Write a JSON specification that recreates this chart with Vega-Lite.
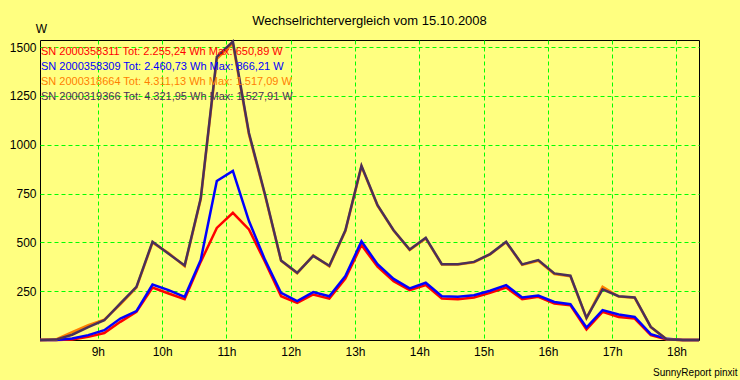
{
  "$schema": "https://vega.github.io/schema/vega-lite/v6.json",
  "width": 659,
  "height": 300,
  "autosize": "none",
  "padding": {"left": 40, "top": 40, "right": 41, "bottom": 40},
  "background": "#FFFF80",
  "config": {"font": "Liberation Sans", "view": {"stroke": "#000000", "strokeWidth": 1}},
  "title": {"text": "Wechselrichtervergleich vom 15.10.2008", "fontSize": 13, "fontWeight": "normal", "color": "#000000", "anchor": "middle", "baseline": "alphabetic", "offset": -16},
  "data": {"values": [
    {"t": "2008-10-15T08:06", "SN 2000358311": 0, "SN 2000358309": 0, "SN 2000318664": 0, "SN 2000319366": 0},
    {"t": "2008-10-15T08:21", "SN 2000358311": 0, "SN 2000358309": 0, "SN 2000318664": 3, "SN 2000319366": 2},
    {"t": "2008-10-15T08:36", "SN 2000358311": 3, "SN 2000358309": 8, "SN 2000318664": 40, "SN 2000319366": 27},
    {"t": "2008-10-15T08:51", "SN 2000358311": 16, "SN 2000358309": 25, "SN 2000318664": 76, "SN 2000319366": 66},
    {"t": "2008-10-15T09:06", "SN 2000358311": 36, "SN 2000358309": 50, "SN 2000318664": 104, "SN 2000319366": 101},
    {"t": "2008-10-15T09:21", "SN 2000358311": 93, "SN 2000358309": 110, "SN 2000318664": 182, "SN 2000319366": 188},
    {"t": "2008-10-15T09:36", "SN 2000358311": 144, "SN 2000358309": 148, "SN 2000318664": 268, "SN 2000319366": 272},
    {"t": "2008-10-15T09:51", "SN 2000358311": 269, "SN 2000358309": 284, "SN 2000318664": 498, "SN 2000319366": 503},
    {"t": "2008-10-15T10:06", "SN 2000358311": 238, "SN 2000358309": 255, "SN 2000318664": 445, "SN 2000319366": 441},
    {"t": "2008-10-15T10:21", "SN 2000358311": 209, "SN 2000358309": 221, "SN 2000318664": 378, "SN 2000319366": 382},
    {"t": "2008-10-15T10:36", "SN 2000358311": 400, "SN 2000358309": 410, "SN 2000318664": 720, "SN 2000319366": 725},
    {"t": "2008-10-15T10:51", "SN 2000358311": 574, "SN 2000358309": 814, "SN 2000318664": 1440, "SN 2000319366": 1450},
    {"t": "2008-10-15T11:06", "SN 2000358311": 651, "SN 2000358309": 866, "SN 2000318664": 1517, "SN 2000319366": 1528},
    {"t": "2008-10-15T11:21", "SN 2000358311": 566, "SN 2000358309": 609, "SN 2000318664": 1052, "SN 2000319366": 1060},
    {"t": "2008-10-15T11:36", "SN 2000358311": 400, "SN 2000358309": 410, "SN 2000318664": 740, "SN 2000319366": 745},
    {"t": "2008-10-15T11:51", "SN 2000358311": 224, "SN 2000358309": 241, "SN 2000318664": 405, "SN 2000319366": 407},
    {"t": "2008-10-15T12:06", "SN 2000358311": 190, "SN 2000358309": 199, "SN 2000318664": 342, "SN 2000319366": 344},
    {"t": "2008-10-15T12:21", "SN 2000358311": 233, "SN 2000358309": 245, "SN 2000318664": 433, "SN 2000319366": 431},
    {"t": "2008-10-15T12:36", "SN 2000358311": 212, "SN 2000358309": 224, "SN 2000318664": 377, "SN 2000319366": 380},
    {"t": "2008-10-15T12:51", "SN 2000358311": 315, "SN 2000358309": 327, "SN 2000318664": 558, "SN 2000319366": 562},
    {"t": "2008-10-15T13:06", "SN 2000358311": 486, "SN 2000358309": 505, "SN 2000318664": 888, "SN 2000319366": 892},
    {"t": "2008-10-15T13:21", "SN 2000358311": 375, "SN 2000358309": 388, "SN 2000318664": 688, "SN 2000319366": 690},
    {"t": "2008-10-15T13:36", "SN 2000358311": 301, "SN 2000358309": 313, "SN 2000318664": 560, "SN 2000319366": 562},
    {"t": "2008-10-15T13:51", "SN 2000358311": 255, "SN 2000358309": 264, "SN 2000318664": 460, "SN 2000319366": 463},
    {"t": "2008-10-15T14:06", "SN 2000358311": 281, "SN 2000358309": 293, "SN 2000318664": 520, "SN 2000319366": 523},
    {"t": "2008-10-15T14:21", "SN 2000358311": 212, "SN 2000358309": 224, "SN 2000318664": 386, "SN 2000319366": 388},
    {"t": "2008-10-15T14:36", "SN 2000358311": 209, "SN 2000358309": 221, "SN 2000318664": 386, "SN 2000319366": 388},
    {"t": "2008-10-15T14:51", "SN 2000358311": 218, "SN 2000358309": 229, "SN 2000318664": 398, "SN 2000319366": 400},
    {"t": "2008-10-15T15:06", "SN 2000358311": 241, "SN 2000358309": 252, "SN 2000318664": 438, "SN 2000319366": 440},
    {"t": "2008-10-15T15:21", "SN 2000358311": 269, "SN 2000358309": 281, "SN 2000318664": 500, "SN 2000319366": 503},
    {"t": "2008-10-15T15:36", "SN 2000358311": 209, "SN 2000358309": 218, "SN 2000318664": 385, "SN 2000319366": 387},
    {"t": "2008-10-15T15:51", "SN 2000358311": 221, "SN 2000358309": 228, "SN 2000318664": 406, "SN 2000319366": 409},
    {"t": "2008-10-15T16:06", "SN 2000358311": 187, "SN 2000358309": 195, "SN 2000318664": 338, "SN 2000319366": 341},
    {"t": "2008-10-15T16:21", "SN 2000358311": 178, "SN 2000358309": 183, "SN 2000318664": 326, "SN 2000319366": 329},
    {"t": "2008-10-15T16:36", "SN 2000358311": 54, "SN 2000358309": 64, "SN 2000318664": 112, "SN 2000319366": 113},
    {"t": "2008-10-15T16:51", "SN 2000358311": 144, "SN 2000358309": 153, "SN 2000318664": 272, "SN 2000319366": 259},
    {"t": "2008-10-15T17:06", "SN 2000358311": 118, "SN 2000358309": 131, "SN 2000318664": 222, "SN 2000319366": 224},
    {"t": "2008-10-15T17:21", "SN 2000358311": 110, "SN 2000358309": 118, "SN 2000318664": 216, "SN 2000319366": 218},
    {"t": "2008-10-15T17:36", "SN 2000358311": 25, "SN 2000358309": 30, "SN 2000318664": 66, "SN 2000319366": 67},
    {"t": "2008-10-15T17:51", "SN 2000358311": 3, "SN 2000358309": 6, "SN 2000318664": 3, "SN 2000319366": 3},
    {"t": "2008-10-15T18:06", "SN 2000358311": 0, "SN 2000358309": 0, "SN 2000318664": 0, "SN 2000319366": 0},
    {"t": "2008-10-15T18:21", "SN 2000358311": 0, "SN 2000358309": 0, "SN 2000318664": 0, "SN 2000319366": 0}
  ]},
  "transform": [{"fold": ["SN 2000358311", "SN 2000358309", "SN 2000318664", "SN 2000319366"], "as": ["sn", "w"]}],
  "mark": {"type": "line", "interpolate": "linear"},
  "encoding": {
    "x": {
      "field": "t", "type": "temporal",
      "scale": {"domain": [{"year": 2008, "month": 10, "date": 15, "hours": 8, "minutes": 6}, {"year": 2008, "month": 10, "date": 15, "hours": 18, "minutes": 21}]},
      "axis": {
        "values": [
          {"year": 2008, "month": 10, "date": 15, "hours": 9},
          {"year": 2008, "month": 10, "date": 15, "hours": 10},
          {"year": 2008, "month": 10, "date": 15, "hours": 11},
          {"year": 2008, "month": 10, "date": 15, "hours": 12},
          {"year": 2008, "month": 10, "date": 15, "hours": 13},
          {"year": 2008, "month": 10, "date": 15, "hours": 14},
          {"year": 2008, "month": 10, "date": 15, "hours": 15},
          {"year": 2008, "month": 10, "date": 15, "hours": 16},
          {"year": 2008, "month": 10, "date": 15, "hours": 17},
          {"year": 2008, "month": 10, "date": 15, "hours": 18}
        ],
        "format": "%-Hh",
        "labelFontSize": 12, "labelColor": "#000000", "labelPadding": 6, "labelFlush": false, "labelOverlap": false,
        "ticks": false, "tickSize": 0, "domain": false,
        "grid": true, "gridColor": "#00FF00", "gridDash": [4, 3], "gridWidth": 1, "gridOpacity": 1,
        "title": "SunnyReport pinxit", "titleFontSize": 10, "titleFontWeight": "normal", "titleColor": "#000000",
        "titleX": 697, "titleY": 35, "titleAlign": "right", "titleBaseline": "alphabetic"
      }
    },
    "y": {
      "field": "w", "type": "quantitative",
      "scale": {"domain": [0, 1536], "nice": false, "zero": true},
      "axis": {
        "values": [250, 500, 750, 1000, 1250, 1500],
        "format": "d",
        "labelFontSize": 12, "labelColor": "#000000", "labelPadding": 4,
        "ticks": false, "tickSize": 0, "domain": false,
        "grid": true, "gridColor": "#00FF00", "gridDash": [4, 3], "gridWidth": 1, "gridOpacity": 1,
        "title": "W", "titleAngle": 0, "titleFontSize": 12, "titleFontWeight": "normal", "titleColor": "#000000",
        "titleX": 1, "titleY": -8, "titleAlign": "center", "titleBaseline": "alphabetic"
      }
    },
    "color": {
      "field": "sn", "type": "nominal",
      "scale": {"domain": ["SN 2000358311", "SN 2000358309", "SN 2000318664", "SN 2000319366"], "range": ["#FF0000", "#0000FF", "#FF8000", "#4A3058"]},
      "legend": {
        "orient": "none", "legendX": -10, "legendY": 6, "title": null, "padding": 0,
        "symbolSize": 0.01, "symbolStrokeWidth": 0, "symbolOpacity": 0, "labelOffset": 0,
        "labelFontSize": 11, "labelLimit": 0, "rowPadding": 3,
        "labelExpr": "datum.label == 'SN 2000358311' ? 'SN 2000358311 Tot: 2.255,24 Wh Max: 650,89 W' : datum.label == 'SN 2000358309' ? 'SN 2000358309 Tot: 2.460,73 Wh Max: 866,21 W' : datum.label == 'SN 2000318664' ? 'SN 2000318664 Tot: 4.311,13 Wh Max: 1.517,09 W' : 'SN 2000319366 Tot: 4.321,95 Wh Max: 1.527,91 W'",
        "encode": {"labels": {"update": {"fill": {"scale": "color", "field": "value"}}}}
      }
    },
    "strokeWidth": {
      "field": "sn", "type": "ordinal",
      "scale": {"domain": ["SN 2000358311", "SN 2000358309", "SN 2000318664", "SN 2000319366"], "range": [2.5, 2.5, 2.5, 2]},
      "legend": null
    }
  }
}
